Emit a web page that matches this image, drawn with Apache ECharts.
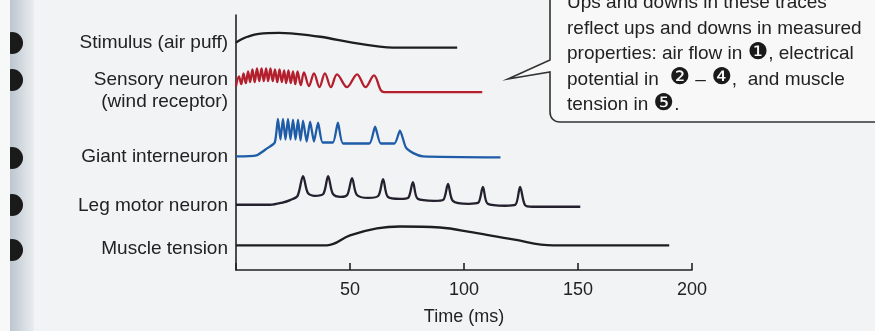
<!DOCTYPE html>
<html>
<head>
<meta charset="utf-8">
<script src="https://cdn.jsdelivr.net/npm/echarts@6/dist/echarts.min.js"></script>
<style>
  html, body { margin: 0; padding: 0; background: #f2f3f4; }
  #chart { width: 875px; height: 331px; }
</style>
</head>
<body>
<div id="chart"></div>
<script>
// time in ms, level in arbitrary trace units (each trace sits on its own baseline)
const timeTicks = [0, 50, 100, 150, 200];

const traceNames = [
  'Stimulus (air puff)',
  'Sensory neuron',
  '(wind receptor)',
  'Giant interneuron',
  'Leg motor neuron',
  'Muscle tension'
];

const stimulus = [
  [0, 230], [2, 233], [5, 236], [10, 239], [19, 240], [24, 239.5], [37, 236],
  [51, 230], [63, 226], [69, 225], [97, 225]
];

const sensory = [
  [0, 186], [1.3, 196], [2.3, 188], [3.3, 199], [4.3, 189], [5.3, 201], [6.2, 190],
  [7.2, 203], [8.2, 190], [9.2, 204], [10.2, 191], [11.2, 204], [12.2, 191],
  [13.2, 204], [14.1, 191], [15.1, 204], [16.1, 191], [17.1, 203], [18.1, 190],
  [19.1, 203], [20.1, 190], [21.1, 202], [22.0, 189], [23.0, 202], [24.0, 189],
  [25.0, 201], [26.0, 188], [27.0, 201], [28.4, 187], [29.8, 200], [32.0, 186],
  [34.2, 199], [36.6, 185], [39.0, 199], [41.6, 185], [44.3, 198], [48.7, 185],
  [53.1, 198], [56.8, 185], [60.5, 197], [63.5, 182], [65, 180], [108, 180]
];

const interneuron = [
  [0, 115], [9, 116], [13.6, 123], [17, 129],
  [18.4, 153], [19.5, 132], [20.6, 153], [21.7, 132], [22.8, 153], [23.9, 132],
  [25.0, 152], [26.1, 132], [27.2, 152], [28.3, 131], [29.4, 151], [31, 130],
  [32.5, 150], [34.2, 130], [36.0, 149], [38, 129], [42.5, 129], [44.7, 149],
  [47, 128], [58.5, 128], [61, 145], [63.5, 128], [69.5, 128], [71.9, 141],
  [74.5, 124], [78, 118], [82, 115], [116, 114]
];

const legMotor = [
  [0, 66], [15, 66], [20, 68], [24, 71], [27, 75], [29.4, 95], [31.5, 78],
  [34.5, 75], [38.3, 77], [40.4, 95], [42.5, 77], [46, 74], [48.8, 76],
  [50.9, 93], [53, 76], [58, 73], [62.4, 75], [64.5, 92], [66.6, 74], [72, 72],
  [75.5, 73], [77.6, 89], [79.7, 72], [87, 70], [90.9, 71], [93.0, 87],
  [95.1, 70], [102, 67], [106.2, 68], [108.3, 84], [110.4, 67], [118, 65],
  [122.5, 66], [124.6, 84], [126.7, 66], [130, 64], [151, 64]
];

const muscle = [
  [0, 25], [39.9, 25], [50, 35], [61.8, 42], [71.9, 44], [89.5, 43],
  [103.9, 38], [121.5, 31], [139, 25], [190, 25]
];

// {n|..} parts are the black circled step numbers
const calloutLines = [
  'Ups and downs in these traces',
  'reflect ups and downs in measured',
  'properties: air flow in {n|\u2776}, electrical',
  'potential in  {n|\u2777} \u2013 {n|\u2779},  and muscle',
  'tension in {n|\u277A}.'
];

const font = '"Liberation Sans", Arial, Helvetica, sans-serif';
const ink = '#222';

function trace(data, color, smooth) {
  return {
    type: 'line',
    data: data,
    smooth: smooth,
    symbol: 'none',
    silent: true,
    lineStyle: { color: color, width: 2.3 },
    z: 3
  };
}

const labelY = [43, 80, 102, 157, 206, 249];
const markerY = [43, 80, 158, 205, 250];

const graphics = [
  // scanned page margin
  {
    type: 'rect', shape: { x: 10, y: 0, width: 24, height: 331 },
    style: {
      fill: new echarts.graphic.LinearGradient(0, 0, 1, 0, [
        { offset: 0, color: '#bcc6cf' },
        { offset: 1, color: '#eaedef' }
      ])
    },
    z: 0
  }
];
markerY.forEach(function (y) {
  graphics.push({ type: 'circle', shape: { cx: 12, cy: y, r: 11 }, style: { fill: '#1a1a1a' }, z: 1 });
});
graphics.push({ type: 'rect', shape: { x: 0, y: 0, width: 10, height: 331 }, style: { fill: '#f7f8f8' }, z: 2 });

traceNames.forEach(function (name, i) {
  graphics.push({
    type: 'text', x: 228, y: labelY[i],
    style: { text: name, font: '19px ' + font, fill: ink, align: 'right', verticalAlign: 'middle' },
    z: 5
  });
});

// callout box: fill, then left/bottom border with pointer (box runs off the top and right)
const boxFill = '#f8f8f8';
const boxStroke = { stroke: '#333', lineWidth: 1.6, fill: null };
graphics.push({
  type: 'polygon',
  shape: { points: [[550, -5], [550, 60], [508, 79], [550, 72], [550, 112], [552, 119], [560, 122], [880, 122], [880, -5]] },
  style: { fill: boxFill }, z: 6
});
graphics.push({
  type: 'polyline',
  shape: { points: [[550, -5], [550, 60], [508, 79], [550, 72], [550, 112]] },
  style: boxStroke, z: 8
});
graphics.push({
  type: 'bezierCurve',
  shape: { x1: 550, y1: 112, cpx1: 550, cpy1: 118, cpx2: 554, cpy2: 122, x2: 560, y2: 122 },
  style: boxStroke, z: 8
});
graphics.push({
  type: 'line', shape: { x1: 560, y1: 122, x2: 880, y2: 122 },
  style: boxStroke, z: 8
});
calloutLines.forEach(function (line, i) {
  graphics.push({
    type: 'text', x: 567, y: 3 + i * 25.5,
    style: {
      text: line, font: '19px ' + font, fill: ink, align: 'left', verticalAlign: 'middle',
      rich: { n: { fontFamily: '"DejaVu Sans"', fontSize: 23, fill: '#1a1a1a', padding: [0, 0, 2, 0] } }
    },
    z: 9
  });
});

const option = {
  backgroundColor: '#f2f3f4',
  animation: false,
  grid: { left: 236, top: 15, width: 456, height: 258 },
  xAxis: {
    type: 'value',
    min: timeTicks[0],
    max: timeTicks[timeTicks.length - 1],
    interval: 50,
    name: 'Time (ms)',
    nameLocation: 'middle',
    nameGap: 38,
    nameTextStyle: { fontFamily: font, fontSize: 18, color: ink },
    axisLine: { lineStyle: { color: ink, width: 1.6 } },
    axisTick: { inside: true, length: 7, lineStyle: { color: ink, width: 1.6 } },
    axisLabel: {
      margin: 11,
      fontFamily: font, fontSize: 18, color: ink,
      formatter: function (v) { return v === 0 ? '' : String(v); }
    },
    splitLine: { show: false }
  },
  yAxis: {
    type: 'value',
    min: 0,
    max: 258,
    axisLine: { show: true, lineStyle: { color: ink, width: 1.6 } },
    axisTick: { show: false },
    axisLabel: { show: false },
    splitLine: { show: false }
  },
  series: [
    trace(stimulus, '#1e1e1e', 0.4),
    trace(sensory, '#b41f2e', 0.35),
    trace(interneuron, '#1f5ca8', 0.2),
    trace(legMotor, '#24202e', 0.3),
    trace(muscle, '#1e1e1e', 0.4)
  ],
  graphic: { elements: graphics }
};

const chart = echarts.init(document.getElementById('chart'), null, { renderer: 'canvas' });
chart.setOption(option);
</script>
</body>
</html>
